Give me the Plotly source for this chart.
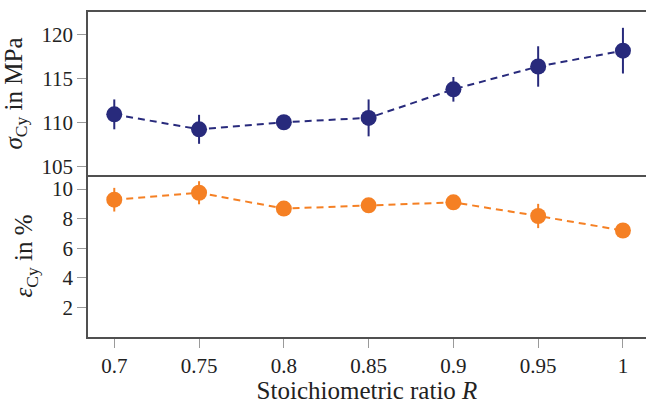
import plotly.graph_objects as go

ratio = [0.7, 0.75, 0.8, 0.85, 0.9, 0.95, 1.0]
tick_labels = ["0.7", "0.75", "0.8", "0.85", "0.9", "0.95", "1"]
sigma = [110.95, 109.25, 110.05, 110.55, 113.8, 116.4, 118.2]
sigma_err = [1.7, 1.65, 0.4, 2.1, 1.4, 2.3, 2.6]
eps = [9.28, 9.75, 8.68, 8.9, 9.1, 8.18, 7.2]
eps_err = [0.8, 0.78, 0.2, 0.2, 0.2, 0.82, 0.2]

NAVY = "#282a7c"
ORANGE = "#f58024"
FONT = "Liberation Serif"
AX = "#505050"
TK = "#9a9a9a"

fig = go.Figure()
fig.add_trace(go.Scatter(
    x=ratio, y=sigma, mode="lines+markers",
    line=dict(color=NAVY, width=2, dash="7px,5px"),
    marker=dict(color=NAVY, size=16),
    error_y=dict(type="data", array=sigma_err, color=NAVY, thickness=2, width=0),
    xaxis="x", yaxis="y", showlegend=False))
fig.add_trace(go.Scatter(
    x=ratio, y=eps, mode="lines+markers",
    line=dict(color=ORANGE, width=2, dash="7px,5px"),
    marker=dict(color=ORANGE, size=16),
    error_y=dict(type="data", array=eps_err, color=ORANGE, thickness=2, width=0),
    xaxis="x2", yaxis="y2", showlegend=False))

xr = [0.6845, 1.0136]
split = 162 / 325
fig.update_layout(
    width=646, height=404,
    margin=dict(l=88, r=0, t=12, b=67),
    paper_bgcolor="white", plot_bgcolor="white",
    font=dict(family=FONT, size=21, color="#222222"),
    xaxis=dict(domain=[0, 1], anchor="y", range=xr, showticklabels=False,
               ticks="", showgrid=False, zeroline=False, showline=True,
               mirror=True, linecolor=AX, linewidth=1.6, matches="x2"),
    yaxis=dict(domain=[split, 1], anchor="x", range=[104.05, 122.6],
               tickvals=[105, 110, 115, 120], ticks="outside", ticklen=9,
               tickcolor=TK, tickwidth=1, showgrid=False, zeroline=False,
               showline=True, linecolor=AX, linewidth=1.6,
               title=dict(text="<i>σ</i><sub>Cy</sub> in MPa", standoff=12)),
    xaxis2=dict(domain=[0, 1], anchor="y2", range=xr, tickvals=ratio,
                ticktext=tick_labels, ticks="outside", ticklen=9,
                tickcolor=TK, tickwidth=1, showgrid=False, zeroline=False,
                showline=True, linecolor=AX, linewidth=1.6,
                title=dict(text="Stoichiometric ratio <i>R</i>", standoff=6)),
    yaxis2=dict(domain=[0, split], anchor="x2", range=[0, 10.95],
                tickvals=[2, 4, 6, 8, 10], ticks="outside", ticklen=9,
                tickcolor=TK, tickwidth=1, showgrid=False, zeroline=False,
                showline=True, linecolor=AX, linewidth=1.6,
                title=dict(text="<i>ε</i><sub>Cy</sub> in %", standoff=12)),
)
fig.write_html("out.html")
